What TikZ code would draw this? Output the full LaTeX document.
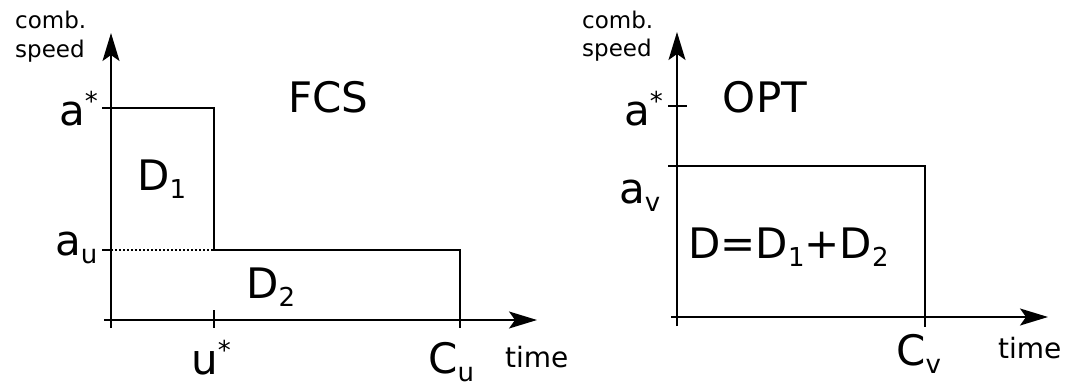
\documentclass[tikz,border=0pt]{standalone}
\usepackage{fontspec}
\setmainfont{DejaVu Sans}
\usetikzlibrary{arrows.meta}
\newcommand\mysub[1]{\raisebox{-8pt}{\fontsize{26}{26}\selectfont #1}}
\newcommand\mysup[1]{\raisebox{15pt}{\fontsize{26}{26}\selectfont #1}}
\newcommand\cmbfont{\fontsize{23pt}{28pt}\selectfont}
\begin{document}
\begin{tikzpicture}[x=1pt,y=-1pt,
  ax/.style={line width=1.6pt,-{Stealth[length=28pt,width=17pt,inset=6pt]}},
  ln/.style={line width=1.6pt},
  dt/.style={line width=1.6pt,dash pattern=on 1.6pt off 2.4pt},
  big/.style={inner sep=0,anchor=base west,font=\fontsize{42}{42}\selectfont},
  cmbtext/.style={inner sep=0,anchor=base west,font=\cmbfont},
  tm/.style={inner sep=0,anchor=base west,font=\fontsize{28}{28}\selectfont}]
\useasboundingbox (0,0) rectangle (1080,383);
% ---------- left: FCS ----------
\coordinate (Lyb) at (111,328);
\coordinate (Lyt) at (111,33);
\coordinate (Lxl) at (104,320);
\coordinate (Lxr) at (537,320);
\coordinate (LaS) at (102,108);
\coordinate (LaSx) at (214,108);
\coordinate (Lau0) at (102,250);
\coordinate (Lau1) at (111,250);
\coordinate (Lu) at (214,250);
\coordinate (LC) at (460,250);
\coordinate (LCb) at (460,328);
\coordinate (Lut) at (214,310);
\coordinate (Lub) at (214,328);
\draw[ax] (Lyb) -- (Lyt);
\draw[ax] (Lxl) -- (Lxr);
\draw[ln] (LaS) -- (LaSx) -- (Lu) -- (LC) -- (LCb);
\draw[ln] (Lau0) -- (Lau1);
\draw[dt] (Lau1) -- (Lu);
\draw[ln] (Lut) -- (Lub);
\node[cmbtext] (lc1) at (15,28) {comb.};
\node[cmbtext] (ls1) at (15,57) {speed};
\node[big] (laS) at (59,125) {a\mysup{*}};
\node[big] (lau) at (55,255) {a\mysub{u}};
\node[big] (lD1) at (137,190) {D\mysub{1}};
\node[big] (lD2) at (246,298) {D\mysub{2}};
\node[big] (lF) at (288,112) {FCS};
\node[big] (luS) at (191,374) {u\mysup{*}};
\node[big] (lCu) at (428,373) {C\mysub{u}};
\node[tm] (lt) at (505,367) {time};
% ---------- right: OPT ----------
\coordinate (Ryb) at (677,326);
\coordinate (Ryt) at (677,32);
\coordinate (Rxl) at (671,317);
\coordinate (Rxr) at (1048,317);
\coordinate (RaS0) at (668,106);
\coordinate (RaS1) at (687,106);
\coordinate (Rav) at (668,166);
\coordinate (RC) at (925,166);
\coordinate (RCb) at (925,327);
\draw[ax] (Ryb) -- (Ryt);
\draw[ax] (Rxl) -- (Rxr);
\draw[ln] (RaS0) -- (RaS1);
\draw[ln] (Rav) -- (RC) -- (RCb);
\node[cmbtext] (rc1) at (582,28) {comb.};
\node[cmbtext] (rs1) at (582,56) {speed};
\node[big] (raS) at (624,125) {a\mysup{*}};
\node[big,anchor=base] (rO) at (765,112) {OPT};
\node[big] (rav) at (619,203) {a\mysub{v}};
\node[big] (rD) at (688,258) {D=D\mysub{1}+D\mysub{2}};
\node[big] (rCv) at (896,365) {C\mysub{v}};
\node[tm] (rt) at (998,358) {time};
\end{tikzpicture}
\end{document}
